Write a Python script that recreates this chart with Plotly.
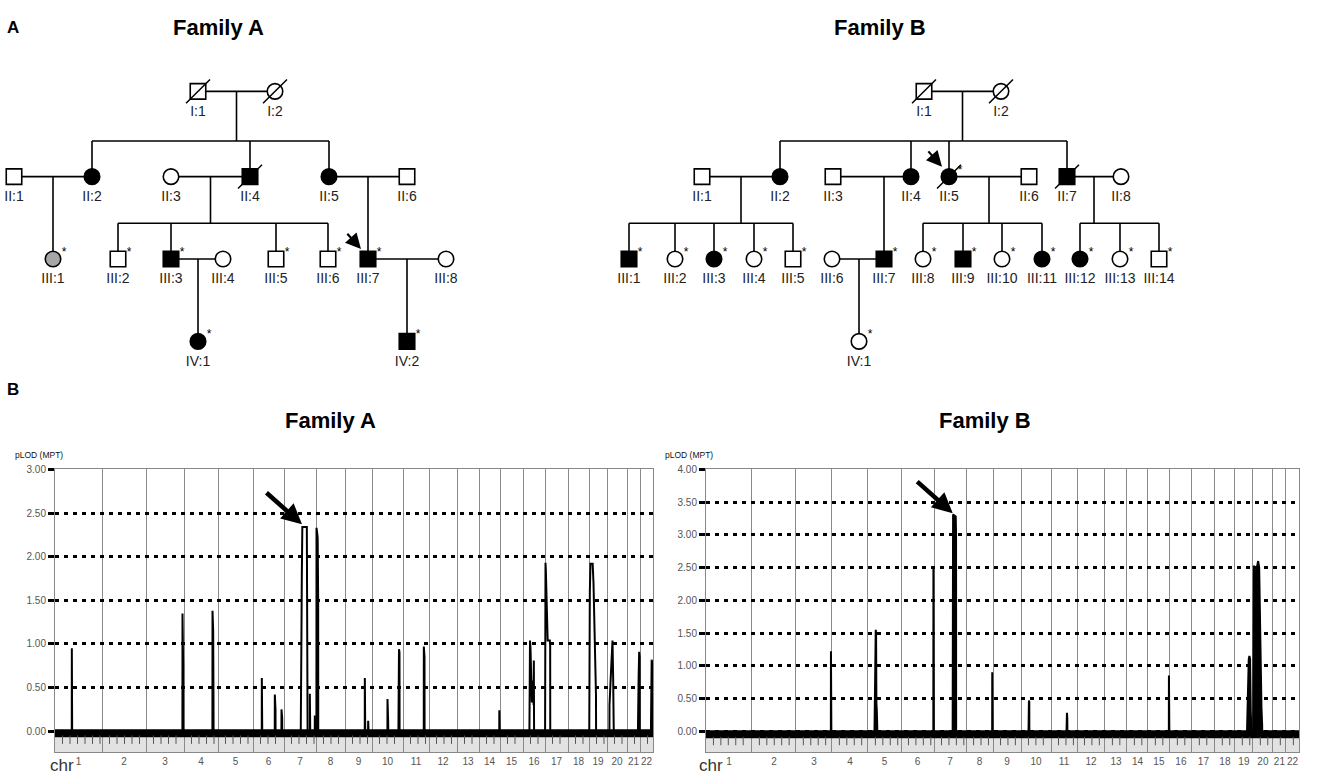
import plotly.graph_objects as go

# ---------------- DATA ----------------
CHROMS = [str(i) for i in range(1, 23)]
CHR_LEN_A = [282, 264, 228, 204, 210, 186, 192, 174, 162, 186, 156, 168, 132, 126, 138, 132, 138, 126, 108, 120, 78, 78]
CHR_LEN_B = [278, 266, 218, 218, 200, 200, 194, 163, 169, 182, 157, 169, 133, 127, 133, 133, 139, 121, 109, 121, 79, 79]
LOD_TICKS_A = [0.0, 0.5, 1.0, 1.5, 2.0, 2.5, 3.0]
LOD_TICKS_B = [0.0, 0.5, 1.0, 1.5, 2.0, 2.5, 3.0, 3.5, 4.0]

# Family A multipoint LOD peaks (chromosome, positions in cM, LOD values)
PEAK_CHR_A = [1, 3, 4, 6, 6, 6, 7, 7, 7, 8, 9, 9, 10, 10, 11, 14, 16, 17, 19, 20, 21, 22]
PEAK_CM_A = [
    [101, 102.5], [219, 221, 223], [171, 173, 175, 177], [53, 55], [131, 133, 135], [171, 173, 175],
    [101, 104, 107, 110, 137, 139, 141], [155, 157], [185, 187], [3, 5, 10, 13],
    [119, 121], [139, 141], [93, 95, 97], [159, 162, 165], [125, 127, 129], [122, 124],
    [39, 42, 45, 49, 53, 56, 62, 63.5, 65, 66], [1, 3, 5, 16, 29, 31],
    [2, 5, 9, 22, 27, 35, 38, 42], [15, 22, 29, 33, 37, 40], [66, 70, 73, 76], [66, 70, 74],
]
PEAK_LOD_A = [
    [0.95, 0.90], [1.35, 1.30, 0.75], [1.38, 1.36, 1.15, 0.35], [0.61, 0.58], [0.42, 0.40, 0.25], [0.25, 0.22, 0.15],
    [0.58, 0.92, 1.80, 2.34, 2.34, 1.71, 0.40], [0.43, 0.42], [0.18, 0.16], [2.33, 2.30, 2.22, 1.48],
    [0.61, 0.55], [0.12, 0.10], [0.37, 0.35, 0.10], [0.10, 0.94, 0.90], [0.97, 0.95, 0.85], [0.24, 0.22],
    [0.60, 1.04, 0.95, 0.50, 0.33, 0.57, 0.57, 0.30, 0.81, 0.50], [1.60, 1.93, 1.85, 1.04, 1.04, 0.98],
    [0.50, 1.60, 1.92, 1.92, 1.70, 1.00, 1.00, 0.40], [0.30, 0.60, 0.95, 1.04, 0.60, 0.20],
    [0.40, 0.65, 0.91, 0.85], [0.62, 0.82, 0.78],
]

# Family B multipoint LOD peaks
PEAK_CHR_B = [3, 5, 6, 7, 8, 10, 11, 15, 19, 20]
PEAK_CM_B = [
    [212, 214], [40, 43, 45, 47, 49, 51, 53, 56], [196, 198], [113, 115, 131, 133], [158, 160],
    [46, 48, 50], [94, 96, 98], [127, 129], [74, 77, 80, 84, 88, 92, 96, 100],
    [2, 6, 12, 20, 28, 32, 38, 44, 48, 52, 56],
]
PEAK_LOD_B = [
    [1.22, 1.20], [0.12, 0.19, 0.60, 1.55, 1.50, 0.41, 0.35, 0.10], [2.49, 2.45], [3.00, 3.31, 3.28, 3.00], [0.90, 0.88],
    [0.20, 0.47, 0.45], [0.27, 0.28, 0.20], [0.85, 0.82], [0.05, 0.69, 0.66, 1.10, 1.15, 1.10, 0.30, 0.05],
    [0.30, 2.53, 2.40, 2.45, 2.55, 2.60, 2.50, 1.20, 0.60, 0.35, 0.10],
]
ARROW_A = (7, 108, 2.37)   # chromosome, cM, LOD of arrow head
ARROW_B = (7, 113, 3.33)

# Pedigrees
PED_A_ID = ["I:1", "I:2", "II:1", "II:2", "II:3", "II:4", "II:5", "II:6", "III:1", "III:2", "III:3",
            "III:4", "III:5", "III:6", "III:7", "III:8", "IV:1", "IV:2"]
PED_A_SEX = ["M", "F", "M", "F", "F", "M", "F", "M", "F", "M", "M", "F", "M", "M", "M", "F", "F", "M"]
PED_A_STATUS = [0, 0, 0, 1, 0, 1, 1, 0, 2, 0, 1, 0, 0, 0, 1, 0, 1, 1]  # 0 unaffected, 1 affected, 2 grey
PED_A_X = [198, 275, 14, 92, 171, 250, 329, 407, 53, 118, 171, 223, 276, 328, 368, 446, 198, 407]
PED_A_GEN = [1, 1, 2, 2, 2, 2, 2, 2, 3, 3, 3, 3, 3, 3, 3, 3, 4, 4]
PED_A_DECEASED = ["I:1", "I:2", "II:4"]
PED_A_TYPED = ["III:1", "III:2", "III:3", "III:5", "III:6", "III:7", "IV:1", "IV:2"]
PED_A_MATINGS = [("I:1", "I:2", ["II:2", "II:4", "II:5"]), ("II:1", "II:2", ["III:1"]),
                 ("II:3", "II:4", ["III:2", "III:3", "III:5", "III:6"]), ("II:5", "II:6", ["III:7"]),
                 ("III:3", "III:4", ["IV:1"]), ("III:7", "III:8", ["IV:2"])]
PED_A_PROBAND = "III:7"

PED_B_ID = ["I:1", "I:2", "II:1", "II:2", "II:3", "II:4", "II:5", "II:6", "II:7", "II:8",
            "III:1", "III:2", "III:3", "III:4", "III:5", "III:6", "III:7", "III:8", "III:9", "III:10",
            "III:11", "III:12", "III:13", "III:14", "IV:1"]
PED_B_SEX = ["M", "F", "M", "F", "M", "F", "F", "M", "M", "F",
             "M", "F", "F", "F", "M", "F", "M", "F", "M", "F", "F", "F", "F", "M", "F"]
PED_B_STATUS = [0, 0, 0, 1, 0, 1, 1, 0, 1, 0,
                1, 0, 1, 0, 0, 0, 1, 0, 1, 0, 1, 1, 0, 0, 0]
PED_B_X = [924, 1001, 702, 780, 833, 911, 949, 1029, 1067, 1121,
           629, 675, 714, 754, 793, 832, 884, 923, 963, 1002, 1042, 1080, 1120, 1159, 859]
PED_B_GEN = [1, 1, 2, 2, 2, 2, 2, 2, 2, 2, 3, 3, 3, 3, 3, 3, 3, 3, 3, 3, 3, 3, 3, 3, 4]
PED_B_DECEASED = ["I:1", "I:2", "II:5", "II:7"]
PED_B_TYPED = ["II:5", "III:1", "III:2", "III:3", "III:4", "III:5", "III:7", "III:8", "III:9",
               "III:10", "III:11", "III:12", "III:13", "III:14", "IV:1"]
PED_B_MATINGS = [("I:1", "I:2", ["II:2", "II:4", "II:5", "II:7"]),
                 ("II:1", "II:2", ["III:1", "III:2", "III:3", "III:4", "III:5"]),
                 ("II:3", "II:4", ["III:7"]),
                 ("II:5", "II:6", ["III:8", "III:9", "III:10", "III:11"]),
                 ("II:7", "II:8", ["III:12", "III:13", "III:14"]),
                 ("III:6", "III:7", ["IV:1"])]
PED_B_PROBAND = "II:5"

# ---------------- LAYOUT CONSTANTS ----------------
W, H = 1322, 774
GEN_Y = {1: 86, 2: 172, 3: 255, 4: 338}
FONT = "Arial, Liberation Sans, sans-serif"
STATUS_FILL = {0: "white", 1: "black", 2: "#a6a6a6"}

fig = go.Figure()


def add_pedigree(ids, sex, status, xs, gens, deceased, typed, matings):
    pos = {i: (x, GEN_Y[g]) for i, x, g in zip(ids, xs, gens)}
    lx, ly = [], []
    for p1, p2, kids in matings:
        (x1, y1), (x2, y2) = pos[p1], pos[p2]
        lx += [x1, x2, None]
        ly += [y1, y2, None]
        kx = [pos[k][0] for k in kids]
        ky = pos[kids[0]][1]
        if len(kids) == 1:
            lx += [kx[0], kx[0], None]
            ly += [y1, ky, None]
        else:
            drop = (x1 + x2) / 2
            bar = ky - 36
            lx += [drop, drop, None, min(kx), max(kx), None]
            ly += [y1, bar, None, bar, bar, None]
            for x in kx:
                lx += [x, x, None]
                ly += [bar, ky, None]
    fig.add_trace(go.Scatter(x=lx, y=ly, mode="lines", line=dict(color="black", width=1.6),
                             xaxis="x", yaxis="y", hoverinfo="skip", showlegend=False))
    for s, sym in (("M", "square"), ("F", "circle")):
        sel = [k for k in range(len(ids)) if sex[k] == s]
        fig.add_trace(go.Scatter(
            x=[xs[k] for k in sel], y=[GEN_Y[gens[k]] for k in sel], mode="markers",
            marker=dict(symbol=sym, size=15.5, color=[STATUS_FILL[status[k]] for k in sel],
                        line=dict(color="black", width=1.6)),
            xaxis="x", yaxis="y", hoverinfo="skip", showlegend=False))
    # deceased slashes
    dx, dy = [], []
    for d in deceased:
        x, y = pos[d]
        dx += [x - 12, x + 12, None]
        dy += [y + 12, y - 12, None]
    fig.add_trace(go.Scatter(x=dx, y=dy, mode="lines", line=dict(color="black", width=1.5),
                             xaxis="x", yaxis="y", hoverinfo="skip", showlegend=False))
    # labels
    fig.add_trace(go.Scatter(x=xs, y=[GEN_Y[g] + 21 for g in gens], text=ids, mode="text",
                             textfont=dict(family=FONT, size=14, color="#222"),
                             xaxis="x", yaxis="y", hoverinfo="skip", showlegend=False))
    fig.add_trace(go.Scatter(x=[pos[t][0] + 11 for t in typed], y=[pos[t][1] - 6 for t in typed],
                             text=["*"] * len(typed), mode="text",
                             textfont=dict(family=FONT, size=12, color="black"),
                             xaxis="x", yaxis="y", hoverinfo="skip", showlegend=False))
    return pos


posA = add_pedigree(PED_A_ID, PED_A_SEX, PED_A_STATUS, PED_A_X, PED_A_GEN, PED_A_DECEASED, PED_A_TYPED, PED_A_MATINGS)
posB = add_pedigree(PED_B_ID, PED_B_SEX, PED_B_STATUS, PED_B_X, PED_B_GEN, PED_B_DECEASED, PED_B_TYPED, PED_B_MATINGS)

annotations = []
for pos, pb in ((posA, PED_A_PROBAND), (posB, PED_B_PROBAND)):
    x, y = pos[pb]
    annotations.append(dict(x=x - 7, y=y - 10, ax=x - 22, ay=y - 27, xref="x", yref="y", axref="x", ayref="y",
                            showarrow=True, arrowhead=2, arrowsize=1.4, arrowwidth=2.2, arrowcolor="black", text=""))


def cum_starts(lengths):
    s, out = 0, []
    for L in lengths:
        out.append(s)
        s += L
    return out, s


def add_lod(xa, ya, lengths, pchr, pcm, plod, base_y, fill, tick_y):
    starts, total = cum_starts(lengths)
    # thick baseline
    fig.add_trace(go.Scatter(x=[0, total], y=[base_y, base_y], mode="lines",
                             line=dict(color="black", width=8), xaxis=xa, yaxis=ya,
                             hoverinfo="skip", showlegend=False))
    px, py = [], []
    for c, cms, lods in zip(pchr, pcm, plod):
        s = starts[c - 1]
        px += [s + cms[0] - 0.5] + [s + v for v in cms] + [s + cms[-1] + 0.5, None]
        py += [0] + list(lods) + [0, None]
    fig.add_trace(go.Scatter(x=px, y=py, mode="lines", line=dict(color="black", width=2),
                             fill="toself" if fill else None, fillcolor="black",
                             xaxis=xa, yaxis=ya, hoverinfo="skip", showlegend=False))
    # little ticks in grey band
    tx = []
    for s, L in zip(starts, lengths):
        v = 45
        while v < L - 10:
            tx.append(s + v)
            v += 45
    fig.add_trace(go.Scatter(x=tx, y=[tick_y] * len(tx), mode="markers",
                             marker=dict(symbol="line-ns", size=6, line=dict(color="#555", width=1)),
                             xaxis=xa, yaxis=ya, hoverinfo="skip", showlegend=False))
    return starts, total


startsA, totA = add_lod("x2", "y2", CHR_LEN_A, PEAK_CHR_A, PEAK_CM_A, PEAK_LOD_A, -0.0225, False, -0.097)
startsB, totB = add_lod("x3", "y3", CHR_LEN_B, PEAK_CHR_B, PEAK_CM_B, PEAK_LOD_B, -0.045, True, -0.15)

shapes = [
    dict(type="rect", xref="x2", yref="y2", x0=0, x1=totA, y0=-0.24, y1=-0.068,
         fillcolor="#e2e2e2", line=dict(width=0), layer="below"),
    dict(type="rect", xref="x3", yref="y3", x0=0, x1=totB, y0=-0.32, y1=-0.106,
         fillcolor="#e2e2e2", line=dict(width=0), layer="below"),
]

for (c, cm, lod), xa, ya, starts in ((ARROW_A, "x2", "y2", startsA), (ARROW_B, "x3", "y3", startsB)):
    annotations.append(dict(x=starts[c - 1] + cm, y=lod, xref=xa, yref=ya, ax=-37, ay=-33,
                            showarrow=True, arrowhead=2, arrowsize=0.9, arrowwidth=4.5,
                            arrowcolor="black", text=""))


def txt(x, y, s, size, bold=False, color="black", xanchor="center"):
    annotations.append(dict(x=x / W, y=1 - y / H, xref="paper", yref="paper",
                            text=("<b>%s</b>" % s) if bold else s,
                            showarrow=False, font=dict(family=FONT, size=size, color=color),
                            xanchor=xanchor, yanchor="middle"))


txt(13, 22, "A", 17, True)
txt(13, 386, "B", 17, True)
txt(218, 22, "Family A", 22, True)
txt(880, 22, "Family B", 22, True)
txt(330, 418, "Family A", 22, True)
txt(985, 418, "Family B", 22, True)
txt(13, 453, "pLOD (MPT)", 8.5, False, "#111", "left")
txt(663, 453, "pLOD (MPT)", 8.5, False, "#111", "left")
txt(62, 765, "chr", 17, False, "#333")
txt(711, 765, "chr", 17, False, "#333")


def xaxis_cfg(domain, lengths):
    starts, total = cum_starts(lengths)
    bounds = starts + [total]
    centers = [s + L / 2 for s, L in zip(starts, lengths)]
    return dict(domain=domain, range=[0, total], showgrid=False, zeroline=False,
                tickmode="array", tickvals=centers, ticktext=CHROMS, ticks="", tickangle=0,
                tickfont=dict(family=FONT, size=10, color="#555"),
                minor=dict(tickmode="array", tickvals=bounds, showgrid=True, gridcolor="#8a8a8a", gridwidth=1, ticks=""),
                showline=True, linecolor="#888", linewidth=1, mirror=True, fixedrange=True)


def yaxis_cfg(domain, rng, ticks, anchor):
    return dict(domain=domain, range=rng, anchor=anchor, tickmode="array", tickvals=ticks, tickformat=".2f",
                showgrid=True, gridcolor="black", gridwidth=2.5, griddash="4px,5px", zeroline=False,
                ticks="outside", ticklen=6, tickwidth=3, tickcolor="black",
                tickfont=dict(family=FONT, size=10, color="#555"),
                showline=True, linecolor="#888", linewidth=1, mirror=True, fixedrange=True)


ydom = [22 / H, 307 / H]
fig.update_layout(
    width=W, height=H, margin=dict(l=0, r=0, t=0, b=0),
    paper_bgcolor="white", plot_bgcolor="rgba(0,0,0,0)", showlegend=False,
    xaxis=dict(domain=[0, 1], range=[0, W], visible=False, fixedrange=True),
    yaxis=dict(domain=[0, 1], range=[H, 0], visible=False, fixedrange=True),
    xaxis2=dict(anchor="y2", **xaxis_cfg([55 / W, 653 / W], CHR_LEN_A)),
    yaxis2=yaxis_cfg(ydom, [-0.24, 3.0], LOD_TICKS_A, "x2"),
    xaxis3=dict(anchor="y3", **xaxis_cfg([706 / W, 1299 / W], CHR_LEN_B)),
    yaxis3=yaxis_cfg(ydom, [-0.32, 4.0], LOD_TICKS_B, "x3"),
    shapes=shapes, annotations=annotations,
)

fig.write_html("out.html", config={"displayModeBar": False},
               post_script="document.body.style.margin='0';document.body.style.overflow='hidden';")
